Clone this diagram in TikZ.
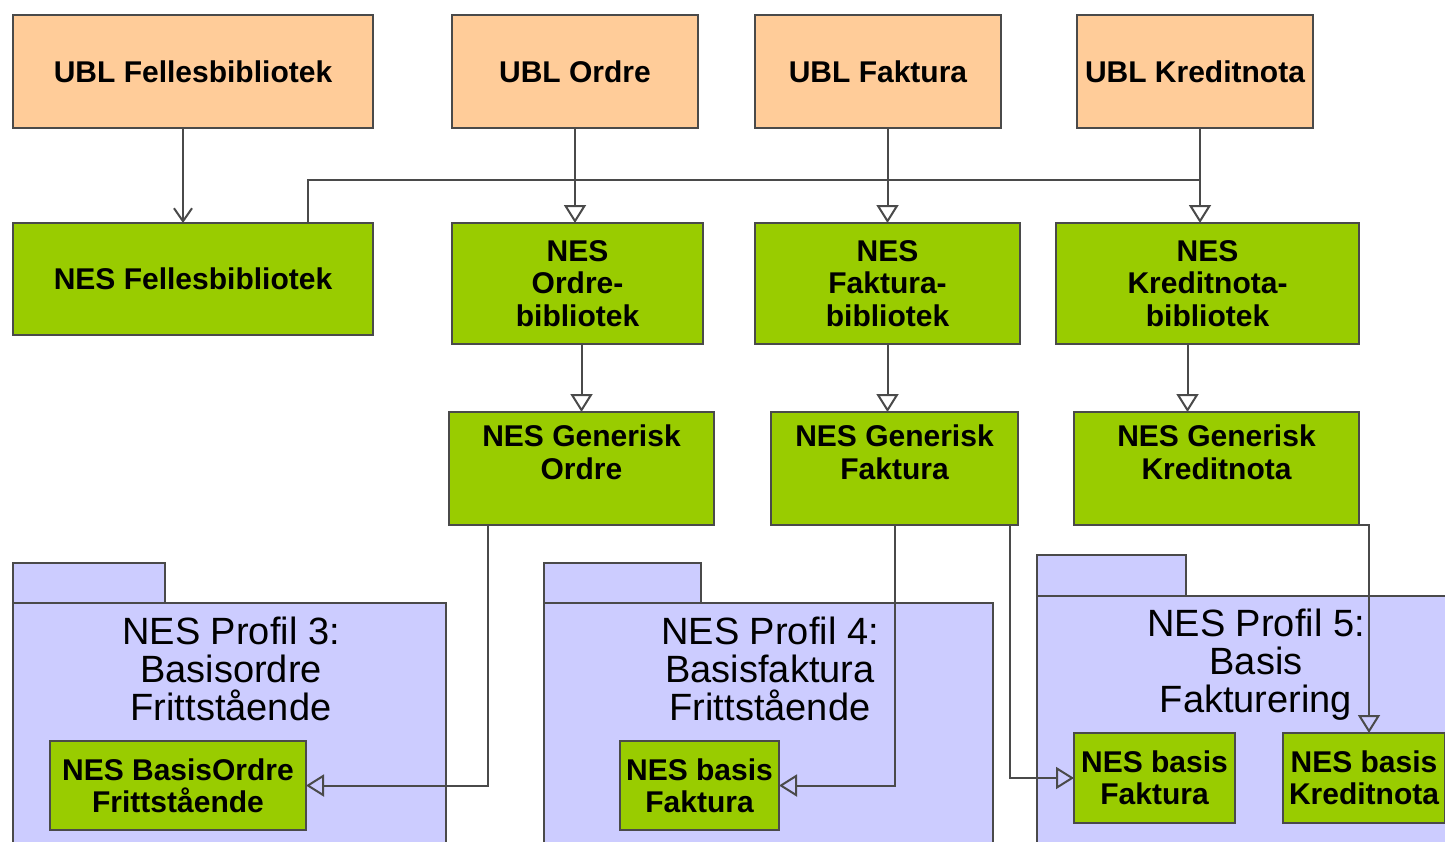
\documentclass[tikz,border=0pt]{standalone}
\usepackage{fontspec}
\setmainfont{Liberation Sans}
\usetikzlibrary{arrows.meta}
\definecolor{ublorange}{HTML}{FFCC99}
\definecolor{nesgreen}{HTML}{99CC00}
\definecolor{pkgblue}{HTML}{CCCCFF}
\definecolor{linegray}{HTML}{4A4A4A}
\tikzset{boxtext/.style={font=\bfseries\fontsize{15}{16.2}\selectfont},
	ublbox/.style={draw=linegray, line width=1pt, fill=ublorange, boxtext},
	nesbox/.style={draw=linegray, line width=1pt, fill=nesgreen, boxtext},
	pkg/.style={draw=linegray, line width=1pt, fill=pkgblue},
	pkgtitle/.style={anchor=north, font=\fontsize{19}{19}\selectfont},
	gen/.style={draw=linegray, line width=1pt, -{Triangle[open, length=9pt, width=11pt]}},
	dep/.style={draw=linegray, line width=1pt, -{Straight Barb[length=6.5pt, width=9pt]}},
	link/.style={draw=linegray, line width=1pt},
	}

\begin{document}
\begin{tikzpicture}[x=0.5pt, y=-0.5pt]
	\tikzset{every node/.style={inner sep=0pt, outer sep=0pt, align=center}}
	\useasboundingbox (0,0) rectangle (1445,841);
	\clip (0,0) rectangle (1445,841);
	% pakker
	\draw[pkg] (13,563) rectangle (165,603);
	\draw[pkg] (13,603) rectangle (446,860);
	\node[pkgtitle] (profil3) at (231,617) {NES Profil 3:\\Basisordre\\Frittstående};
	\draw[pkg] (544,563) rectangle (701,603);
	\draw[pkg] (544,603) rectangle (993,860);
	\node[pkgtitle] (profil4) at (770,617) {NES Profil 4:\\Basisfaktura\\Frittstående};
	\draw[pkg] (1037,555) rectangle (1186,596);
	\draw[pkg] (1037,596) rectangle (1480,860);
	\node[pkgtitle] (profil5) at (1256,609) {NES Profil 5:\\Basis\\Fakturering};
	% UBL
	\node[ublbox, minimum width=180pt, minimum height=56.5pt] (ublfelles) at (193,71.5) {UBL Fellesbibliotek};
	\node[ublbox, minimum width=123pt, minimum height=56.5pt] (ublordre) at (575,71.5) {UBL Ordre};
	\node[ublbox, minimum width=123pt, minimum height=56.5pt] (ublfaktura) at (878,71.5) {UBL Faktura};
	\node[ublbox, minimum width=118pt, minimum height=56.5pt] (ublkredit) at (1195,71.5) {UBL Kreditnota};
	% NES bibliotek
	\node[nesbox, minimum width=180pt, minimum height=56pt] (nesfelles) at (193,279) {NES Fellesbibliotek};
	\node[nesbox, minimum width=125.5pt, minimum height=60.5pt] (nesordre) at (577.5,283.5) {NES\\Ordre-\\bibliotek};
	\node[nesbox, minimum width=132.5pt, minimum height=60.5pt] (nesfaktura) at (887.5,283.5) {NES\\Faktura-\\bibliotek};
	\node[nesbox, minimum width=151.5pt, minimum height=60.5pt] (neskredit) at (1207.5,283.5) {NES\\Kreditnota-\\bibliotek};
	% generisk
	\node[nesbox, minimum width=132.5pt, minimum height=56.5pt] (genordre) at (581.5,468.5) {NES Generisk\\Ordre\\\mbox{}};
	\node[nesbox, minimum width=123.5pt, minimum height=56.5pt] (genfaktura) at (894.5,468.5) {NES Generisk\\Faktura\\\mbox{}};
	\node[nesbox, minimum width=142.5pt, minimum height=56.5pt] (genkredit) at (1216.5,468.5) {NES Generisk\\Kreditnota\\\mbox{}};
	% basis
	\node[nesbox, minimum width=128pt, minimum height=44.5pt] (basisordre) at (178,785.5) {NES BasisOrdre\\Frittstående};
	\node[nesbox, minimum width=79.5pt, minimum height=44.5pt] (basisfak4) at (699.5,785.5) {NES basis\\Faktura};
	\node[nesbox, minimum width=80.5pt, minimum height=45pt] (basisfak5) at (1154.5,778) {NES basis\\Faktura};
	\node[nesbox, minimum width=81pt, minimum height=45pt] (basiskredit) at (1364,778) {NES basis\\Kreditnota};
	% piler
	\coordinate (knot) at (1200,180);
	\draw[dep] ([xshift=-5pt]ublfelles.south) -- ([xshift=-5pt]nesfelles.north);
	\draw[link] ([xshift=57.5pt]nesfelles.north) |- (knot);
	\draw[gen] (ublordre.south) -- (ublordre.south |- nesordre.north);
	\draw[gen] (nesfaktura.north |- ublfaktura.south) -- (nesfaktura.north);
	\draw[gen] (knot |- ublkredit.south) -- (knot |- neskredit.north);
	\draw[gen] (genordre.north |- nesordre.south) -- (genordre.north);
	\draw[gen] (nesfaktura.south) -- (nesfaktura.south |- genfaktura.north);
	\draw[gen] ([xshift=-10pt]neskredit.south) -- ([xshift=-10pt]neskredit.south |- genkredit.north);
	\draw[gen] ([xshift=-47pt]genordre.south) |- (basisordre.east);
	\draw[gen] (genfaktura.south) |- (basisfak4.east);
	\draw[gen] ([xshift=57.5pt]genfaktura.south) |- (basisfak5.west);
	\draw[gen] (genkredit.south east) -| ([xshift=2.5pt]basiskredit.north);
\end{tikzpicture}
\end{document}
